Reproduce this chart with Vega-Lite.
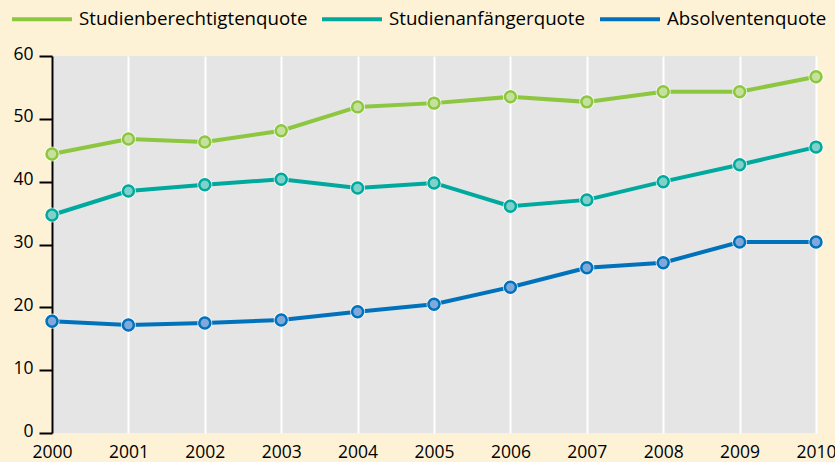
{
  "$schema": "https://vega.github.io/schema/vega-lite/v6.json",
  "autosize": {"type": "none"},
  "width": 764,
  "height": 377,
  "padding": {"left": 52, "top": 56, "right": 19, "bottom": 29},
  "background": "#fdf2d6",
  "config": {
    "font": "Open Sans",
    "view": {"fill": "#e5e5e5", "stroke": null}
  },
  "data": {
    "values": [
      {"year": 2000, "series": "Studienberechtigtenquote", "value": 44.4},
      {"year": 2001, "series": "Studienberechtigtenquote", "value": 46.8},
      {"year": 2002, "series": "Studienberechtigtenquote", "value": 46.3},
      {"year": 2003, "series": "Studienberechtigtenquote", "value": 48.1},
      {"year": 2004, "series": "Studienberechtigtenquote", "value": 51.9},
      {"year": 2005, "series": "Studienberechtigtenquote", "value": 52.5},
      {"year": 2006, "series": "Studienberechtigtenquote", "value": 53.5},
      {"year": 2007, "series": "Studienberechtigtenquote", "value": 52.7},
      {"year": 2008, "series": "Studienberechtigtenquote", "value": 54.3},
      {"year": 2009, "series": "Studienberechtigtenquote", "value": 54.3},
      {"year": 2010, "series": "Studienberechtigtenquote", "value": 56.7},
      {"year": 2000, "series": "Studienanfängerquote", "value": 34.7},
      {"year": 2001, "series": "Studienanfängerquote", "value": 38.5},
      {"year": 2002, "series": "Studienanfängerquote", "value": 39.5},
      {"year": 2003, "series": "Studienanfängerquote", "value": 40.4},
      {"year": 2004, "series": "Studienanfängerquote", "value": 39.0},
      {"year": 2005, "series": "Studienanfängerquote", "value": 39.8},
      {"year": 2006, "series": "Studienanfängerquote", "value": 36.1},
      {"year": 2007, "series": "Studienanfängerquote", "value": 37.1},
      {"year": 2008, "series": "Studienanfängerquote", "value": 40.0},
      {"year": 2009, "series": "Studienanfängerquote", "value": 42.7},
      {"year": 2010, "series": "Studienanfängerquote", "value": 45.5},
      {"year": 2000, "series": "Absolventenquote", "value": 17.8},
      {"year": 2001, "series": "Absolventenquote", "value": 17.2},
      {"year": 2002, "series": "Absolventenquote", "value": 17.5},
      {"year": 2003, "series": "Absolventenquote", "value": 18.0},
      {"year": 2004, "series": "Absolventenquote", "value": 19.3},
      {"year": 2005, "series": "Absolventenquote", "value": 20.5},
      {"year": 2006, "series": "Absolventenquote", "value": 23.2},
      {"year": 2007, "series": "Absolventenquote", "value": 26.3},
      {"year": 2008, "series": "Absolventenquote", "value": 27.1},
      {"year": 2009, "series": "Absolventenquote", "value": 30.4},
      {"year": 2010, "series": "Absolventenquote", "value": 30.4}
    ]
  },
  "encoding": {
    "x": {
      "field": "year", "type": "quantitative",
      "scale": {"domain": [2000, 2010], "nice": false, "zero": false},
      "axis": {
        "title": null, "format": "d", "values": [2000,2001,2002,2003,2004,2005,2006,2007,2008,2009,2010],
        "domain": false, "ticks": false, "labelPadding": 10,
        "labelFontSize": 17.5, "labelColor": "#000000",
        "grid": true, "gridColor": "#ffffff", "gridWidth": 2, "labelFlush": false
      }
    },
    "y": {
      "field": "value", "type": "quantitative",
      "scale": {"domain": [0, 60], "nice": false},
      "axis": {
        "title": null, "values": [0,10,20,30,40,50,60],
        "grid": false, "domainColor": "#000000", "domainWidth": 2,
        "tickColor": "#000000", "tickWidth": 2, "tickSize": 13,
        "labelFontSize": 17.5, "labelColor": "#000000", "labelPadding": 6,
        "labelBaseline": "alphabetic", "labelOffset": 3
      }
    }
  },
  "layer": [
    {
      "mark": {"type": "line", "strokeWidth": 4},
      "encoding": {
        "color": {
          "field": "series", "type": "nominal",
          "scale": {
            "domain": ["Studienberechtigtenquote", "Studienanfängerquote", "Absolventenquote"],
            "range": ["#8dc63f", "#00a99d", "#0072bc"]
          },
          "legend": {
            "title": null, "orient": "none", "direction": "horizontal",
            "legendX": -42, "legendY": -69,
            "symbolType": "stroke", "symbolSize": 3600, "symbolStrokeWidth": 4,
            "labelFontSize": 18.7, "labelColor": "#000000", "labelOffset": 5,
            "columnPadding": 6, "labelLimit": 400
          }
        }
      }
    },
    {
      "mark": {"type": "point", "filled": true, "size": 230, "color": "#ffffff", "opacity": 0.75},
      "encoding": {}
    },
    {
      "mark": {"type": "point", "filled": false, "size": 120, "strokeWidth": 2.5, "opacity": 1},
      "encoding": {
        "stroke": {
          "field": "series", "type": "nominal",
          "scale": {
            "domain": ["Studienberechtigtenquote", "Studienanfängerquote", "Absolventenquote"],
            "range": ["#8dc63f", "#00a99d", "#0072bc"]
          },
          "legend": null
        },
        "fill": {
          "field": "series", "type": "nominal",
          "scale": {
            "domain": ["Studienberechtigtenquote", "Studienanfängerquote", "Absolventenquote"],
            "range": ["#c6e19e", "#7fd1c9", "#7fa9da"]
          },
          "legend": null
        }
      }
    }
  ]
}
